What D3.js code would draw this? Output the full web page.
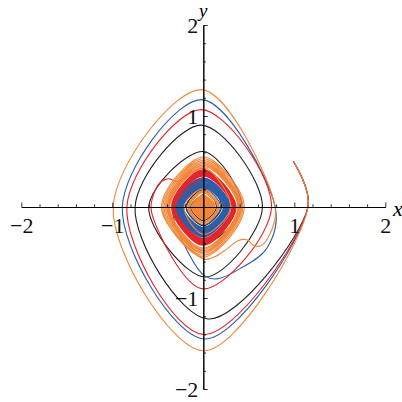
<!DOCTYPE html>
<html>
<head>
<meta charset="utf-8">
<script src="https://cdn.jsdelivr.net/npm/d3@7"></script>
<style>
  body { margin: 0; background: #fff; }
</style>
</head>
<body>
<div id="phase"></div>
<script>
// axis ticks
const xMajor = [-2, -1, 1, 2]
const yMajor = [-2, -1, 1, 2]
const minorTicks = [-1.8, -1.6, -1.4, -1.2, -0.8, -0.6, -0.4, -0.2, 0.2, 0.4, 0.6, 0.8, 1.2, 1.4, 1.6, 1.8]

// trajectories: lead-in points, then inner loops as [right, bottom, left, top] crossings
const blackLead = [[0.99, 0.50], [1.15, 0.00], [0.05, -1.23], [-0.75, 0.00], [-0.02, 0.90], [0.65, 0.00],
    [0.02, -0.77], [-0.60, 0.00], [0.00, 0.61]]
const blackRings = [[0.42, -0.40, -0.29, 0.27], [0.20, -0.205, -0.19, 0.19], [0.145, -0.15, -0.14, 0.14]]

const redLead = [[0.99, 0.50], [1.15, 0.00], [0.00, -1.40], [-0.84, 0.00], [-0.02, 1.07], [0.75, 0.00],
    [0.00, -0.90], [-0.57, -0.05], [-0.53, 0.18], [-0.46, 0.28], [-0.38, 0.31], [-0.29, 0.28],
    [-0.21, 0.31], [-0.08, 0.40], [0.00, 0.42]]
const redRings = [[0.36, -0.42, -0.35, 0.41], [0.355, -0.41, -0.345, 0.40], [0.35, -0.40, -0.34, 0.39],
    [0.345, -0.395, -0.335, 0.38], [0.34, -0.385, -0.33, 0.37], [0.335, -0.375, -0.325, 0.36],
    [0.33, -0.365, -0.32, 0.35], [0.32, -0.355, -0.315, 0.34], [0.315, -0.345, -0.31, 0.33]]

const blueLead = [[0.99, 0.50], [1.15, 0.00], [0.01, -1.45], [-0.89, 0.00], [-0.02, 1.18], [0.79, 0.00],
    [0.70, -0.45], [0.40, -0.68], [0.15, -0.79], [0.02, -0.76], [-0.15, -0.53], [-0.33, 0.00], [0.00, 0.32]]
const blueRings = [[0.30, -0.33, -0.32, 0.31], [0.295, -0.325, -0.31, 0.30], [0.29, -0.315, -0.30, 0.29],
    [0.285, -0.305, -0.295, 0.28], [0.28, -0.295, -0.29, 0.27], [0.27, -0.285, -0.28, 0.26],
    [0.265, -0.275, -0.27, 0.25], [0.26, -0.265, -0.265, 0.24], [0.25, -0.255, -0.26, 0.235],
    [0.245, -0.25, -0.25, 0.23], [0.24, -0.24, -0.24, 0.22], [0.23, -0.23, -0.23, 0.215],
    [0.22, -0.225, -0.22, 0.205], [0.19, -0.195, -0.185, 0.185]]

const orangeLead = [[0.99, 0.50], [1.15, 0.00], [0.00, -1.58], [-0.99, 0.00], [-0.02, 1.29], [0.79, 0.00],
    [0.71, -0.34], [0.62, -0.43], [0.55, -0.42], [0.48, -0.36], [0.38, -0.37], [0.26, -0.46],
    [0.12, -0.55], [0.00, -0.57], [-0.46, 0.00], [0.00, 0.55]]
const orangeRings = [[0.45, -0.55, -0.445, 0.53], [0.435, -0.53, -0.43, 0.51], [0.42, -0.51, -0.415, 0.49],
    [0.41, -0.495, -0.40, 0.475], [0.40, -0.48, -0.39, 0.46], [0.39, -0.465, -0.38, 0.445],
    [0.38, -0.45, -0.37, 0.43], [0.30, -0.30, -0.21, 0.20], [0.175, -0.19, -0.17, 0.18],
    [0.165, -0.175, -0.16, 0.17], [0.155, -0.165, -0.15, 0.16],
    [0.13, -0.135, -0.13, 0.13], [0.12, -0.125, -0.12, 0.12], [0.11, -0.115, -0.11, 0.11],
    [0.10, -0.105, -0.10, 0.10], [0.09, -0.095, -0.09, 0.09], [0.08, -0.085, -0.08, 0.08],
    [0.07, -0.075, -0.07, 0.07], [0.06, -0.065, -0.06, 0.06], [0.05, -0.055, -0.05, 0.05],
    [0.04, -0.045, -0.04, 0.04], [0.03, -0.035, -0.03, 0.03], [0.02, -0.025, -0.02, 0.02],
    [0.01, -0.015, -0.01, 0.01]]

const series = [
    {name: "black", colour: "#231f20", lead: blackLead, rings: blackRings},
    {name: "blue", colour: "#2b5ea8", lead: blueLead, rings: blueRings},
    {name: "red", colour: "#e5232a", lead: redLead, rings: redRings},
    {name: "orange", colour: "#f2873a", lead: orangeLead, rings: orangeRings}
]

function drawPhase(){
    let width = 402
    let height = 402
    let svg = d3.select("#phase")
        .append("svg")
            .attr("width", width)
            .attr("height", height)

    let x = d3.scaleLinear().domain([-2, 2]).range([21.3, 385.3])
    let y = d3.scaleLinear().domain([-2, 2]).range([389, 25])

    let line = d3.line()
        .x(d => x(d[0]))
        .y(d => y(d[1]))
        .curve(d3.curveCatmullRom.alpha(0.5))

    series.forEach(function(s){
        let pts = s.lead.concat(s.rings.flatMap(r => [[r[0], 0], [0, r[1]], [r[2], 0], [0, r[3]]]))
        svg.append("path")
            .attr("class", "traj " + s.name)
            .attr("fill", "none")
            .attr("stroke", s.colour)
            .attr("stroke-width", 1.1)
            .attr("d", line(pts))
    })

    let fmt = d => d < 0 ? "\u2212" + Math.abs(d) : String(d)

    // minor ticks first, each axis in its own group
    svg.append("g").attr("transform", `translate(0,${y(0)})`)
        .call(d3.axisBottom(x).tickValues(minorTicks).tickSize(-2.7).tickSizeOuter(0).tickFormat(""))
    svg.append("g").attr("transform", `translate(${x(0)},0)`)
        .call(d3.axisLeft(y).tickValues(minorTicks).tickSize(-2.7).tickSizeOuter(0).tickFormat(""))
    svg.append("g").attr("transform", `translate(0,${y(0)})`)
        .call(d3.axisBottom(x).tickValues(xMajor).tickSize(-4.5).tickSizeOuter(0).tickPadding(10).tickFormat(fmt))
    svg.append("g").attr("transform", `translate(${x(0)},0)`)
        .call(d3.axisLeft(y).tickValues(yMajor).tickSize(-4.5).tickSizeOuter(0).tickPadding(5).tickFormat(fmt))

    svg.selectAll(".domain").attr("stroke", "#000").attr("stroke-width", 1)
    svg.selectAll(".tick line").attr("stroke", "#000").attr("stroke-width", 0.8)
    svg.selectAll(".tick text")
        .attr("font-family", "'Liberation Serif', 'Times New Roman', serif")
        .attr("font-size", 22)
        .attr("fill", "#111")

    svg.append("text")
        .attr("x", 393).attr("y", 216)
        .attr("font-family", "'Liberation Serif', serif")
        .attr("font-style", "italic")
        .attr("font-size", 22)
        .text("x")
    svg.append("text")
        .attr("x", 199).attr("y", 17)
        .attr("font-family", "'Liberation Serif', serif")
        .attr("font-style", "italic")
        .attr("font-size", 19)
        .text("y")
}
drawPhase()
</script>
</body>
</html>
